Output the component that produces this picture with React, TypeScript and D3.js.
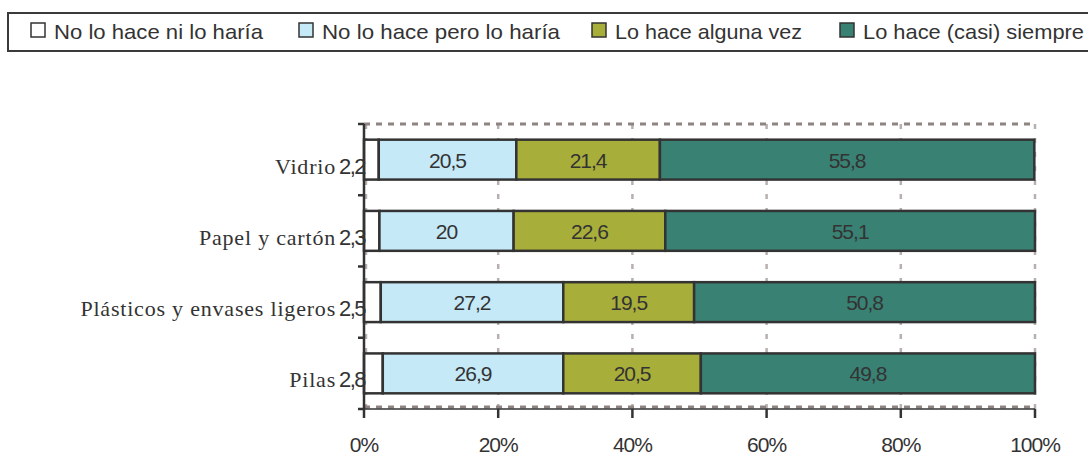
import React from "react";
import * as d3 from "d3";

const categories = ["Vidrio", "Papel y cartón", "Plásticos y envases ligeros", "Pilas"];
const seriesNames = ["No lo hace ni lo haría", "No lo hace pero lo haría", "Lo hace alguna vez", "Lo hace (casi) siempre"];
const noNiHaria = [2.2, 2.3, 2.5, 2.8];
const noPeroHaria = [20.5, 20, 27.2, 26.9];
const algunaVez = [21.4, 22.6, 19.5, 20.5];
const casiSiempre = [55.8, 55.1, 50.8, 49.8];
const xTicks = [0, 20, 40, 60, 80, 100];
const colors = ["#ffffff", "#c6e9f8", "#a8ae3a", "#398173"];

const fmt = (v: number) => String(v).replace(".", ",");

export default function App() {
  const W = 1088, H = 454;
  const x = d3.scaleLinear().domain([0, 100]).range([364, 1035]);
  const y = d3.scaleBand<string>().domain(categories).range([124, 409]).paddingInner(0.44).paddingOuter(0.22);
  const step = y.step();
  const series = [noNiHaria, noPeroHaria, algunaVez, casiSiempre];
  const rows = categories.map((c, i) => {
    let acc = 0;
    return series.map((s, k) => {
      const x0 = acc;
      acc += s[i];
      return { cat: c, k, v: s[i], x0, x1: acc };
    });
  });
  const legendX = [31, 299, 592, 840];
  const legendW = [209, 238, 187, 221];
  const sans = "'Liberation Sans', Arial, sans-serif";
  const serif = "'Liberation Serif', 'Times New Roman', serif";
  const textCol = "#333333";
  const y0 = 124, y1 = 409;
  const boundaries = d3.range(categories.length + 1).map(i => y0 + i * step);

  return (
    <svg width={W} height={H} style={{ position: "absolute", left: 0, top: 0 }}>
      {/* legend */}
      <rect x={8} y={13} width={1100} height={38} fill="#fff" stroke="#3a3a3a" strokeWidth={2} />
      {seriesNames.map((n, i) => (
        <g key={n}>
          <rect x={legendX[i]} y={23} width={14} height={14} fill={colors[i]} stroke="#333" strokeWidth={1.5} />
          <text x={legendX[i] + 23} y={39} fontFamily={sans} fontSize={21} fill={textCol}
            textLength={legendW[i]} lengthAdjust="spacingAndGlyphs">{n}</text>
        </g>
      ))}

      {/* grid lines */}
      {xTicks.filter(t => t > 0).map(t => (
        <line key={t} x1={x(t)} x2={x(t)} y1={y0} y2={y1} stroke="#b8b0ae" strokeWidth={2.5} strokeDasharray="5 9" />
      ))}
      <line x1={x(0) + 2} x2={x(0) + 2} y1={y0} y2={y1} stroke="#b8b0ae" strokeWidth={2.5} strokeDasharray="5 9" />
      <line x1={x(0)} x2={x(100)} y1={y0} y2={y0} stroke="#8e8482" strokeWidth={3} strokeDasharray="6 6" />
      <line x1={x(0)} x2={x(100)} y1={y1 - 2} y2={y1 - 2} stroke="#8e8482" strokeWidth={3} strokeDasharray="6 6" />

      {/* bars */}
      {rows.map(r => r.map(s => (
        <rect key={s.cat + s.k} x={x(s.x0)} y={y(s.cat)!} width={x(s.x1) - x(s.x0)} height={y.bandwidth()}
          fill={colors[s.k]} stroke="#333" strokeWidth={2.5} />
      )))}

      {/* value labels */}
      {rows.map(r => r.map(s => (
        s.k === 0 ? (
          <text key={"l" + s.cat + s.k} x={x(0) + 1} y={y(s.cat)! + y.bandwidth() / 2 + 14} textAnchor="end"
            fontFamily={sans} fontSize={22} fill={textCol} letterSpacing={-1.5}>{fmt(s.v)}</text>
        ) : (
          <text key={"l" + s.cat + s.k} x={(x(s.x0) + x(s.x1)) / 2} y={y(s.cat)! + y.bandwidth() / 2 + 8} textAnchor="middle"
            fontFamily={sans} fontSize={21} fill={textCol} letterSpacing={-1}>{fmt(s.v)}</text>
        )
      )))}

      {/* category labels */}
      {categories.map(c => (
        <text key={c} x={336} y={y(c)! + y.bandwidth() / 2 + 14} textAnchor="end" fontFamily={serif} fontSize={22}
          letterSpacing={0.8} fill={textCol}>{c}</text>
      ))}

      {/* axes */}
      <line x1={x(0)} x2={x(0)} y1={y0} y2={y1} stroke="#333" strokeWidth={2.5} />
      {boundaries.map((b, i) => (
        <line key={i} x1={x(0) - 6} x2={x(0)} y1={b} y2={b} stroke="#333" strokeWidth={2.5} />
      ))}
      <line x1={x(0)} x2={x(100)} y1={y1} y2={y1} stroke="#333" strokeWidth={1.5} />
      {xTicks.map(t => (
        <g key={t}>
          <line x1={x(t)} x2={x(t)} y1={y1} y2={y1 + 9} stroke="#333" strokeWidth={2.5} />
          <text x={x(t)} y={452} textAnchor="middle" fontFamily={sans} fontSize={21} fill={textCol} letterSpacing={-1}>{t}%</text>
        </g>
      ))}
    </svg>
  );
}
